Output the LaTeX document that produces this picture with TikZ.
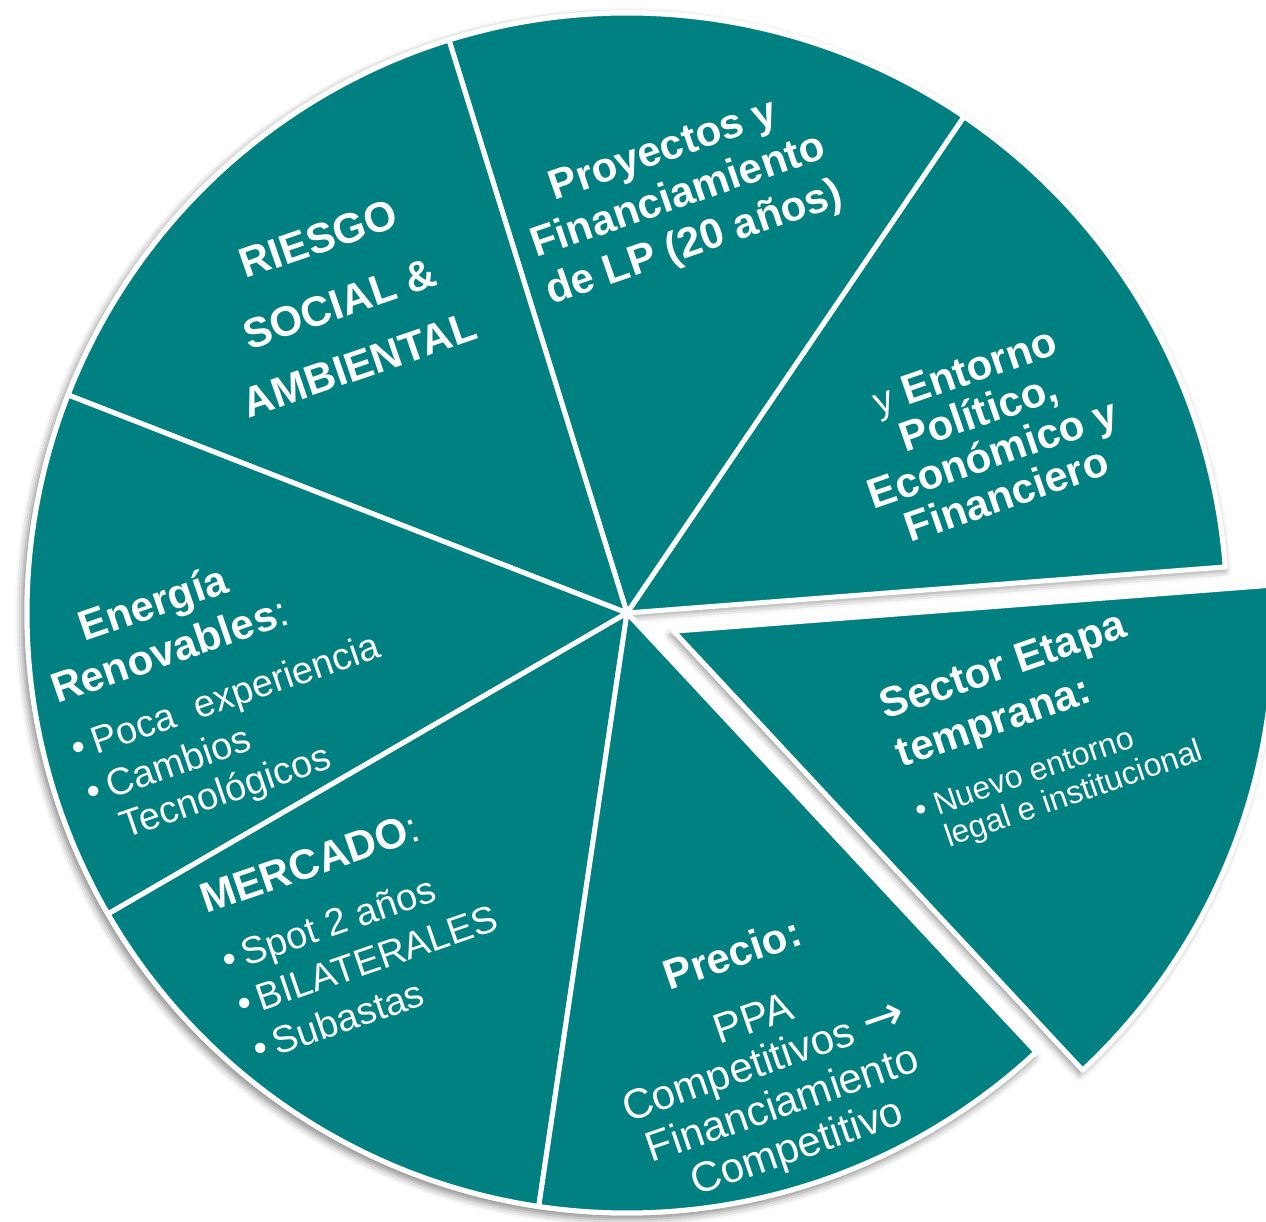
\documentclass[tikz,border=0pt]{standalone}
\usepackage{fontspec}
\setmainfont{Liberation Sans}
\newfontfamily\arrowfont{DejaVu Sans}
\usetikzlibrary{shadows.blur}
\definecolor{pieteal}{RGB}{0,128,128}
\begin{document}
\begin{tikzpicture}[x=1pt,y=1pt,
  slice/.style={fill=pieteal, draw=white, line width=5pt, line join=round},
  pshadow/.style={blur shadow={shadow xshift=-3pt, shadow yshift=-4pt, shadow blur radius=7pt, shadow opacity=45}},
  lbl/.style={text=white, inner sep=0pt, text height=0.716em, text depth=0pt, rotate=19},
  hb/.style={lbl, font=\fontsize{42}{42}\selectfont\bfseries},
  rg/.style={lbl, font=\fontsize{42}{42}\selectfont},
  rm/.style={lbl, font=\fontsize{38}{38}\selectfont},
  rs/.style={lbl, font=\fontsize{32}{32}\selectfont}]
\useasboundingbox (0,0) rectangle (1266,1221);
\coordinate (C) at (627,608);
\coordinate (C2) at (673.6,589.8);
% shadow of the main pie
\fill[white, pshadow] (C) -- ++(4.4:602.5) arc[start angle=4.4, end angle=312.97, radius=602.5] -- cycle;
% main slices
\draw[slice] (C) -- ++(4.4:600)    arc[start angle=4.4,    end angle=55.83,  radius=600] -- cycle;
\draw[slice] (C) -- ++(55.83:600)  arc[start angle=55.83,  end angle=107.26, radius=600] -- cycle;
\draw[slice] (C) -- ++(107.26:600) arc[start angle=107.26, end angle=158.69, radius=600] -- cycle;
\draw[slice] (C) -- ++(158.69:600) arc[start angle=158.69, end angle=210.11, radius=600] -- cycle;
\draw[slice] (C) -- ++(210.11:600) arc[start angle=210.11, end angle=261.54, radius=600] -- cycle;
\draw[slice] (C) -- ++(261.54:600) arc[start angle=261.54, end angle=312.97, radius=600] -- cycle;
% exploded slice
\draw[slice, pshadow] (C2) -- ++(312.97:600) arc[start angle=312.97, end angle=364.4, radius=600] -- cycle;

% RIESGO
\node[hb] (ri1) at (322,972) {RIESGO};
\node[hb] (ri2) at (343,907) {SOCIAL \&};
\node[hb] (ri3) at (363,846) {AMBIENTAL};
% Proyectos
\node[hb] (pr1) at (666,1063) {Proyectos y};
\node[hb] (pr2) at (681,1017) {Financiamiento};
\node[hb] (pr3) at (697,970) {de LP (20 años)};
% Entorno
\node[hb] (en1) at (968,839.6) {{\mdseries\fontsize{38}{38}\selectfont y} Entorno};
\node[hb] (en2) at (982,798.5) {Político,};
\node[hb] (en3) at (996,757.4) {Económico y};
\node[hb] (en4) at (1010,716.3) {Financiero};
% Precio
\node[hb] (pc1) at (736,257) {Precio:};
\node[rg] (pc2) at (757,193) {PPA};
\node[rg] (pc3) at (767,150.4) {Competitivos {\arrowfont\fontsize{50}{50}\selectfont →}};
\node[rg] (pc4) at (785.4,107.8) {Financiamiento};
\node[rg] (pc5) at (800,65) {Competitivo};
% Sector
\begin{scope}[shift={(885.5,501)}, rotate=19]
  \node[hb, anchor=base west] (se1) at (0,0) {Sector Etapa};
  \node[hb, anchor=base west] (se2) at (0,-50) {temprana:};
  \node[rs, anchor=base west] (se3) at (-1,-107) {\makebox[19.5pt][l]{•}Nuevo entorno};
  \node[rs, anchor=base west] (se4) at (18.5,-141) {legal e institucional};
\end{scope}
% MERCADO
\begin{scope}[shift={(206,307)}, rotate=19]
  \node[hb, anchor=base west] (me1) at (0,0) {MERCADO{\mdseries:}};
  \node[rm, anchor=base west] (me2) at (1,-63) {\makebox[20pt][l]{•}Spot 2 años};
  \node[rm, anchor=base west] (me3) at (1,-110) {\makebox[20pt][l]{•}BILATERALES};
  \node[rm, anchor=base west] (me4) at (1,-157) {\makebox[20pt][l]{•}Subastas};
\end{scope}
% Energia
\begin{scope}[shift={(57,517)}, rotate=19]
  \node[hb, anchor=base] (er1) at (123.5,50) {Energía};
  \node[hb, anchor=base west] (er2) at (0,0) {Renovables{\mdseries:}};
  \node[rm, anchor=base west] (er3) at (-1,-61) {\makebox[22pt][l]{•}Poca\ \ experiencia};
  \node[rm, anchor=base west] (er4) at (-1,-107) {\makebox[22pt][l]{•}Cambios};
  \node[rm, anchor=base west] (er5) at (21,-150) {Tecnológicos};
\end{scope}
\end{tikzpicture}
\end{document}
